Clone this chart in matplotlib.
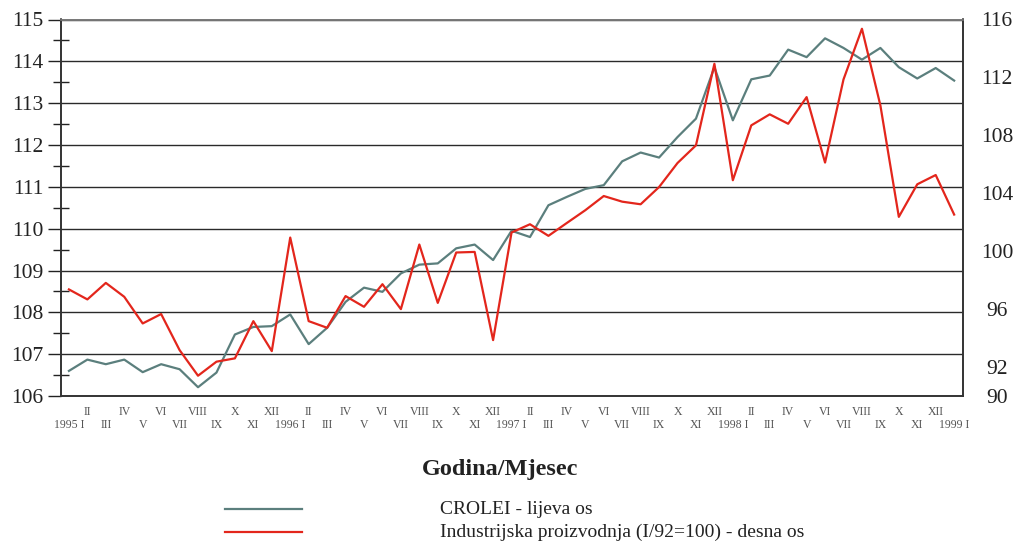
import matplotlib
matplotlib.use("Agg")
import matplotlib.pyplot as plt
from matplotlib.lines import Line2D
import numpy as np

months = ["I", "II", "III", "IV", "V", "VI", "VII", "VIII", "IX", "X", "XI", "XII"]
years = ["1995", "1996", "1997", "1998", "1999"]

crolei = [106.60, 106.87, 106.76, 106.87, 106.57, 106.76, 106.64, 106.21, 106.56, 107.47, 107.65, 107.67,
          107.95, 107.24, 107.63, 108.25, 108.59, 108.49, 108.93, 109.14, 109.17, 109.53, 109.62, 109.25,
          109.95, 109.80, 110.56, 110.76, 110.95, 111.04, 111.61, 111.82, 111.70, 112.19, 112.63, 113.86,
          112.59, 113.57, 113.66, 114.28, 114.10, 114.55, 114.32, 114.04, 114.32, 113.86, 113.59, 113.84,
          113.54]
industrija = [97.36, 96.67, 97.81, 96.85, 95.01, 95.66, 93.17, 91.40, 92.37, 92.60, 95.17, 93.10,
              100.94, 95.17, 94.71, 96.90, 96.16, 97.72, 96.00, 100.46, 96.43, 99.91, 99.95, 93.86,
              101.29, 101.86, 101.06, 101.95, 102.83, 103.81, 103.42, 103.24, 104.43, 106.09, 107.31, 112.94,
              104.90, 108.69, 109.45, 108.80, 110.64, 106.12, 111.86, 115.36, 110.07, 102.37, 104.62, 105.26,
              102.53]

left_ticks = [106, 107, 108, 109, 110, 111, 112, 113, 114, 115]
right_ticks = [90, 92, 96, 100, 104, 108, 112, 116]

GREEN = "#5b7f7d"
RED = "#e3261c"
serif = ["Liberation Serif", "DejaVu Serif"]

n = len(crolei)
x = np.arange(n)
labels = []
for i in range(n):
    m = months[i % 12]
    if i % 12 == 0:
        labels.append(years[i // 12] + " " + m)
    else:
        labels.append(m)

fig = plt.figure(figsize=(10.18, 5.42), dpi=100)
ax = fig.add_axes([61 / 1018, 1 - 396 / 542, (963 - 61) / 1018, (396 - 19.5) / 542])
ax2 = ax.twinx()

ax.plot(x, crolei, color=GREEN, lw=1.6, zorder=3)
ax2.plot(x, industrija, color=RED, lw=1.6, zorder=3)

ax.set_xlim(-0.43, 48.48)
ax.set_ylim(106, 115)
ax2.set_ylim(90, 116)

# left axis
ax.set_yticks(left_ticks)
ax.set_yticklabels([str(t) for t in left_ticks], fontsize=15.5, family=serif, color="#222")
ax.set_yticks(np.arange(106.5, 115, 1.0), minor=True)
ax.tick_params(axis="y", which="major", direction="out", length=9.4, width=1.0, color="#222", pad=3.5)
ax.tick_params(axis="y", which="minor", direction="inout", length=12, width=1.0, color="#222")
ax.yaxis.grid(True, which="major", color="#2a2a2a", lw=1.0)
ax.set_axisbelow(True)

# right axis
ax2.set_yticks(right_ticks)
ax2.set_yticklabels([str(t) for t in right_ticks], fontsize=15.5, family=serif, color="#222")
ax2.tick_params(axis="y", which="major", length=0, pad=24.5)
for lab in ax2.get_yticklabels():
    lab.set_horizontalalignment("center")

# x axis: two rows of labels
even = x[0::2]
odd = x[1::2]
ax.set_xticks(even)
ax.set_xticklabels([labels[i] for i in even], fontsize=8.5, family=serif, color="#555")
ax.set_xticks(odd, minor=True)
ax.set_xticklabels([labels[i] for i in odd], minor=True, fontsize=8.5, family=serif, color="#555")
ax.tick_params(axis="x", which="major", length=0, pad=16.5)
ax.tick_params(axis="x", which="minor", length=0, pad=7.5)

for a in (ax, ax2):
    for s in a.spines.values():
        s.set_color("#333")
        s.set_linewidth(1.2)
ax2.spines["top"].set_color("#777")
ax.spines["top"].set_color("#777")

fig.text(500.5 / 1018, 1 - 470 / 542, "Godina/Mjesec", ha="center", va="center",
         fontsize=17.5, fontweight="bold", family=serif, color="#222")

fig.add_artist(Line2D([225 / 1018, 302 / 1018], [1 - 509 / 542, 1 - 509 / 542], color=GREEN, lw=1.6))
fig.add_artist(Line2D([225 / 1018, 302 / 1018], [1 - 532 / 542, 1 - 532 / 542], color=RED, lw=1.6))
fig.text(440 / 1018, 1 - 509 / 542, "CROLEI - lijeva os", ha="left", va="center",
         fontsize=14, family=serif, color="#222")
fig.text(440 / 1018, 1 - 532 / 542, "Industrijska proizvodnja (I/92=100) - desna os", ha="left", va="center",
         fontsize=14, family=serif, color="#222")

fig.savefig("out.png", dpi=100)
